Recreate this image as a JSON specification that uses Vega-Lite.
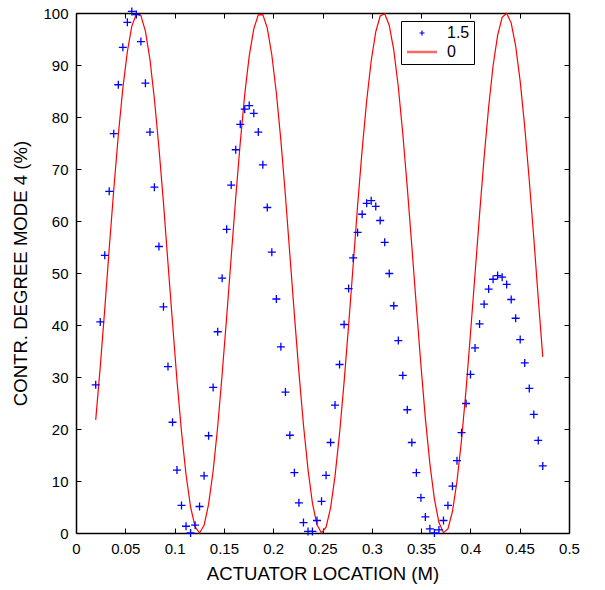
{
  "$schema": "https://vega.github.io/schema/vega-lite/v6.json",
  "width": 493,
  "height": 520,
  "autosize": {"type": "none"},
  "padding": {"left": 76, "top": 13, "right": 36, "bottom": 57},
  "background": "white",
  "config": {
    "view": {"stroke": null},
    "font": "Liberation Sans",
    "axis": {
      "grid": false,
      "domainColor": "black",
      "domainWidth": 1.5,
      "tickColor": "black",
      "tickWidth": 1,
      "labelColor": "black",
      "titleColor": "black",
      "labelFontSize": 15,
      "titleFontSize": 18.6,
      "titleFontWeight": "normal",
      "labelFlush": false,
      "labelOverlap": false,
      "labelFont": "Liberation Sans",
      "titleFont": "Liberation Sans"
    },
    "legend": {
      "title": null, "orient": "none", "legendX": 325, "legendY": 8,
      "strokeColor": "black", "fillColor": "white", "padding": 4,
      "labelFontSize": 16, "labelColor": "black", "labelFont": "Liberation Sans",
      "symbolSize": 25, "symbolStrokeWidth": 2, "symbolOffset": 9, "labelOffset": 17, "rowPadding": 3,
      "labelExpr": "datum.label + '    '"
    }
  },
  "datasets": {
    "blue": [
      {"x": 0.0200, "y": 28.5, "series": "1.5"},
      {"x": 0.0246, "y": 40.6, "series": "1.5"},
      {"x": 0.0292, "y": 53.4, "series": "1.5"},
      {"x": 0.0337, "y": 65.7, "series": "1.5"},
      {"x": 0.0383, "y": 76.8, "series": "1.5"},
      {"x": 0.0429, "y": 86.2, "series": "1.5"},
      {"x": 0.0475, "y": 93.4, "series": "1.5"},
      {"x": 0.0521, "y": 98.2, "series": "1.5"},
      {"x": 0.0566, "y": 100.3, "series": "1.5"},
      {"x": 0.0612, "y": 99.7, "series": "1.5"},
      {"x": 0.0658, "y": 94.5, "series": "1.5"},
      {"x": 0.0704, "y": 86.5, "series": "1.5"},
      {"x": 0.0750, "y": 77.1, "series": "1.5"},
      {"x": 0.0795, "y": 66.5, "series": "1.5"},
      {"x": 0.0841, "y": 55.1, "series": "1.5"},
      {"x": 0.0887, "y": 43.5, "series": "1.5"},
      {"x": 0.0933, "y": 32.0, "series": "1.5"},
      {"x": 0.0979, "y": 21.3, "series": "1.5"},
      {"x": 0.1024, "y": 12.1, "series": "1.5"},
      {"x": 0.1070, "y": 5.3, "series": "1.5"},
      {"x": 0.1116, "y": 1.3, "series": "1.5"},
      {"x": 0.1162, "y": 0.0, "series": "1.5"},
      {"x": 0.1208, "y": 1.5, "series": "1.5"},
      {"x": 0.1253, "y": 5.1, "series": "1.5"},
      {"x": 0.1299, "y": 11.0, "series": "1.5"},
      {"x": 0.1345, "y": 18.7, "series": "1.5"},
      {"x": 0.1391, "y": 28.0, "series": "1.5"},
      {"x": 0.1437, "y": 38.7, "series": "1.5"},
      {"x": 0.1482, "y": 49.0, "series": "1.5"},
      {"x": 0.1528, "y": 58.4, "series": "1.5"},
      {"x": 0.1574, "y": 66.9, "series": "1.5"},
      {"x": 0.1620, "y": 73.7, "series": "1.5"},
      {"x": 0.1666, "y": 78.6, "series": "1.5"},
      {"x": 0.1711, "y": 81.5, "series": "1.5"},
      {"x": 0.1757, "y": 82.2, "series": "1.5"},
      {"x": 0.1803, "y": 80.7, "series": "1.5"},
      {"x": 0.1849, "y": 77.1, "series": "1.5"},
      {"x": 0.1895, "y": 70.8, "series": "1.5"},
      {"x": 0.1940, "y": 62.6, "series": "1.5"},
      {"x": 0.1986, "y": 54.0, "series": "1.5"},
      {"x": 0.2032, "y": 45.0, "series": "1.5"},
      {"x": 0.2078, "y": 35.8, "series": "1.5"},
      {"x": 0.2124, "y": 27.1, "series": "1.5"},
      {"x": 0.2169, "y": 18.8, "series": "1.5"},
      {"x": 0.2215, "y": 11.6, "series": "1.5"},
      {"x": 0.2261, "y": 5.8, "series": "1.5"},
      {"x": 0.2307, "y": 2.0, "series": "1.5"},
      {"x": 0.2353, "y": 0.3, "series": "1.5"},
      {"x": 0.2398, "y": 0.3, "series": "1.5"},
      {"x": 0.2444, "y": 2.4, "series": "1.5"},
      {"x": 0.2490, "y": 6.1, "series": "1.5"},
      {"x": 0.2536, "y": 11.1, "series": "1.5"},
      {"x": 0.2582, "y": 17.4, "series": "1.5"},
      {"x": 0.2627, "y": 24.6, "series": "1.5"},
      {"x": 0.2673, "y": 32.4, "series": "1.5"},
      {"x": 0.2719, "y": 40.1, "series": "1.5"},
      {"x": 0.2765, "y": 47.0, "series": "1.5"},
      {"x": 0.2811, "y": 52.9, "series": "1.5"},
      {"x": 0.2856, "y": 57.8, "series": "1.5"},
      {"x": 0.2902, "y": 61.3, "series": "1.5"},
      {"x": 0.2948, "y": 63.4, "series": "1.5"},
      {"x": 0.2994, "y": 63.9, "series": "1.5"},
      {"x": 0.3040, "y": 62.8, "series": "1.5"},
      {"x": 0.3085, "y": 60.1, "series": "1.5"},
      {"x": 0.3131, "y": 55.9, "series": "1.5"},
      {"x": 0.3177, "y": 49.9, "series": "1.5"},
      {"x": 0.3223, "y": 43.7, "series": "1.5"},
      {"x": 0.3269, "y": 37.0, "series": "1.5"},
      {"x": 0.3314, "y": 30.3, "series": "1.5"},
      {"x": 0.3360, "y": 23.7, "series": "1.5"},
      {"x": 0.3406, "y": 17.4, "series": "1.5"},
      {"x": 0.3452, "y": 11.6, "series": "1.5"},
      {"x": 0.3498, "y": 6.8, "series": "1.5"},
      {"x": 0.3543, "y": 3.1, "series": "1.5"},
      {"x": 0.3589, "y": 0.8, "series": "1.5"},
      {"x": 0.3635, "y": 0.0, "series": "1.5"},
      {"x": 0.3681, "y": 0.6, "series": "1.5"},
      {"x": 0.3727, "y": 2.4, "series": "1.5"},
      {"x": 0.3772, "y": 5.3, "series": "1.5"},
      {"x": 0.3818, "y": 9.0, "series": "1.5"},
      {"x": 0.3864, "y": 13.9, "series": "1.5"},
      {"x": 0.3910, "y": 19.3, "series": "1.5"},
      {"x": 0.3956, "y": 24.9, "series": "1.5"},
      {"x": 0.4001, "y": 30.5, "series": "1.5"},
      {"x": 0.4047, "y": 35.6, "series": "1.5"},
      {"x": 0.4093, "y": 40.2, "series": "1.5"},
      {"x": 0.4139, "y": 44.0, "series": "1.5"},
      {"x": 0.4185, "y": 46.9, "series": "1.5"},
      {"x": 0.4230, "y": 48.8, "series": "1.5"},
      {"x": 0.4276, "y": 49.5, "series": "1.5"},
      {"x": 0.4322, "y": 49.2, "series": "1.5"},
      {"x": 0.4368, "y": 47.8, "series": "1.5"},
      {"x": 0.4414, "y": 44.9, "series": "1.5"},
      {"x": 0.4459, "y": 41.3, "series": "1.5"},
      {"x": 0.4505, "y": 37.2, "series": "1.5"},
      {"x": 0.4551, "y": 32.7, "series": "1.5"},
      {"x": 0.4597, "y": 27.8, "series": "1.5"},
      {"x": 0.4643, "y": 22.8, "series": "1.5"},
      {"x": 0.4688, "y": 17.8, "series": "1.5"},
      {"x": 0.4734, "y": 12.9, "series": "1.5"}
    ],
    "red": [
      {"x": 0.0200, "y": 21.76, "series": "0"},
      {"x": 0.0246, "y": 31.98, "series": "0"},
      {"x": 0.0292, "y": 43.15, "series": "0"},
      {"x": 0.0337, "y": 54.70, "series": "0"},
      {"x": 0.0383, "y": 66.00, "series": "0"},
      {"x": 0.0429, "y": 76.49, "series": "0"},
      {"x": 0.0475, "y": 85.51, "series": "0"},
      {"x": 0.0521, "y": 92.60, "series": "0"},
      {"x": 0.0566, "y": 97.48, "series": "0"},
      {"x": 0.0612, "y": 99.81, "series": "0"},
      {"x": 0.0658, "y": 99.48, "series": "0"},
      {"x": 0.0704, "y": 96.51, "series": "0"},
      {"x": 0.0750, "y": 91.07, "series": "0"},
      {"x": 0.0795, "y": 83.46, "series": "0"},
      {"x": 0.0841, "y": 74.12, "series": "0"},
      {"x": 0.0887, "y": 63.54, "series": "0"},
      {"x": 0.0933, "y": 51.85, "series": "0"},
      {"x": 0.0979, "y": 40.39, "series": "0"},
      {"x": 0.1024, "y": 29.37, "series": "0"},
      {"x": 0.1070, "y": 19.47, "series": "0"},
      {"x": 0.1116, "y": 11.20, "series": "0"},
      {"x": 0.1162, "y": 5.00, "series": "0"},
      {"x": 0.1208, "y": 1.20, "series": "0"},
      {"x": 0.1253, "y": 0.00, "series": "0"},
      {"x": 0.1299, "y": 1.48, "series": "0"},
      {"x": 0.1345, "y": 5.54, "series": "0"},
      {"x": 0.1391, "y": 11.97, "series": "0"},
      {"x": 0.1437, "y": 20.44, "series": "0"},
      {"x": 0.1482, "y": 30.48, "series": "0"},
      {"x": 0.1528, "y": 41.55, "series": "0"},
      {"x": 0.1574, "y": 53.09, "series": "0"},
      {"x": 0.1620, "y": 64.47, "series": "0"},
      {"x": 0.1666, "y": 75.10, "series": "0"},
      {"x": 0.1711, "y": 84.33, "series": "0"},
      {"x": 0.1757, "y": 91.74, "series": "0"},
      {"x": 0.1803, "y": 96.94, "series": "0"},
      {"x": 0.1849, "y": 99.64, "series": "0"},
      {"x": 0.1895, "y": 99.69, "series": "0"},
      {"x": 0.1940, "y": 97.10, "series": "0"},
      {"x": 0.1986, "y": 91.93, "series": "0"},
      {"x": 0.2032, "y": 84.62, "series": "0"},
      {"x": 0.2078, "y": 75.45, "series": "0"},
      {"x": 0.2124, "y": 64.85, "series": "0"},
      {"x": 0.2169, "y": 53.50, "series": "0"},
      {"x": 0.2215, "y": 41.94, "series": "0"},
      {"x": 0.2261, "y": 30.85, "series": "0"},
      {"x": 0.2307, "y": 20.76, "series": "0"},
      {"x": 0.2353, "y": 12.24, "series": "0"},
      {"x": 0.2398, "y": 5.73, "series": "0"},
      {"x": 0.2444, "y": 1.58, "series": "0"},
      {"x": 0.2490, "y": 0.01, "series": "0"},
      {"x": 0.2536, "y": 1.11, "series": "0"},
      {"x": 0.2582, "y": 4.82, "series": "0"},
      {"x": 0.2627, "y": 10.94, "series": "0"},
      {"x": 0.2673, "y": 19.15, "series": "0"},
      {"x": 0.2719, "y": 29.01, "series": "0"},
      {"x": 0.2765, "y": 39.97, "series": "0"},
      {"x": 0.2811, "y": 51.48, "series": "0"},
      {"x": 0.2856, "y": 62.95, "series": "0"},
      {"x": 0.2902, "y": 73.67, "series": "0"},
      {"x": 0.2948, "y": 83.12, "series": "0"},
      {"x": 0.2994, "y": 90.82, "series": "0"},
      {"x": 0.3040, "y": 96.37, "series": "0"},
      {"x": 0.3085, "y": 99.42, "series": "0"},
      {"x": 0.3131, "y": 99.84, "series": "0"},
      {"x": 0.3177, "y": 97.60, "series": "0"},
      {"x": 0.3223, "y": 92.85, "series": "0"},
      {"x": 0.3269, "y": 85.76, "series": "0"},
      {"x": 0.3314, "y": 76.82, "series": "0"},
      {"x": 0.3360, "y": 66.41, "series": "0"},
      {"x": 0.3406, "y": 55.12, "series": "0"},
      {"x": 0.3452, "y": 43.56, "series": "0"},
      {"x": 0.3498, "y": 32.37, "series": "0"},
      {"x": 0.3543, "y": 22.09, "series": "0"},
      {"x": 0.3589, "y": 13.32, "series": "0"},
      {"x": 0.3635, "y": 6.50, "series": "0"},
      {"x": 0.3681, "y": 2.01, "series": "0"},
      {"x": 0.3727, "y": 0.07, "series": "0"},
      {"x": 0.3772, "y": 0.80, "series": "0"},
      {"x": 0.3818, "y": 4.15, "series": "0"},
      {"x": 0.3864, "y": 9.95, "series": "0"},
      {"x": 0.3910, "y": 17.89, "series": "0"},
      {"x": 0.3956, "y": 27.54, "series": "0"},
      {"x": 0.4001, "y": 38.40, "series": "0"},
      {"x": 0.4047, "y": 49.80, "series": "0"},
      {"x": 0.4093, "y": 61.31, "series": "0"},
      {"x": 0.4139, "y": 72.18, "series": "0"},
      {"x": 0.4185, "y": 81.92, "series": "0"},
      {"x": 0.4230, "y": 89.85, "series": "0"},
      {"x": 0.4276, "y": 95.71, "series": "0"},
      {"x": 0.4322, "y": 99.15, "series": "0"},
      {"x": 0.4368, "y": 99.94, "series": "0"},
      {"x": 0.4414, "y": 98.06, "series": "0"},
      {"x": 0.4459, "y": 93.65, "series": "0"},
      {"x": 0.4505, "y": 86.86, "series": "0"},
      {"x": 0.4551, "y": 78.09, "series": "0"},
      {"x": 0.4597, "y": 67.85, "series": "0"},
      {"x": 0.4643, "y": 56.72, "series": "0"},
      {"x": 0.4688, "y": 45.19, "series": "0"},
      {"x": 0.4734, "y": 33.87, "series": "0"}
    ]
  },
  "layer": [
    {
      "data": {"name": "red"},
      "mark": {"type": "line", "strokeWidth": 1.2, "clip": false},
      "encoding": {
        "x": {
          "field": "x", "type": "quantitative",
          "scale": {"domain": [0, 0.5], "nice": false, "zero": false},
          "axis": {
            "orient": "top", "values": [0, 0.05, 0.1, 0.15, 0.2, 0.25, 0.3, 0.35, 0.4, 0.45, 0.5],
            "labels": false, "title": null, "tickSize": -5
          }
        },
        "y": {
          "field": "y", "type": "quantitative",
          "scale": {"domain": [0, 100], "nice": false, "zero": false},
          "axis": {
            "orient": "right", "values": [0, 10, 20, 30, 40, 50, 60, 70, 80, 90, 100],
            "labels": false, "title": null, "tickSize": -5
          }
        },
        "color": {
          "field": "series", "type": "nominal",
          "scale": {"domain": ["1.5", "0"], "range": ["#0000ff", "#ff0000"]},
          "legend": {
            "encode": {"symbols": {"update": {"strokeWidth": {"signal": "datum.value == '1.5' ? 1.2 : 2.5"}, "strokeOpacity": {"signal": "datum.value == '1.5' ? 1 : 0.6"}}}}
          }
        }
      }
    },
    {
      "data": {"name": "blue"},
      "mark": {"type": "point", "filled": false, "size": 64, "strokeWidth": 1.3, "opacity": 1},
      "encoding": {
        "x": {
          "field": "x", "type": "quantitative",
          "scale": {"domain": [0, 0.5], "nice": false, "zero": false},
          "axis": {
            "orient": "bottom", "values": [0, 0.05, 0.1, 0.15, 0.2, 0.25, 0.3, 0.35, 0.4, 0.45, 0.5],
            "format": "~g", "title": "ACTUATOR LOCATION (M)", "tickSize": -5, "labelPadding": 13, "titlePadding": 8
          }
        },
        "y": {
          "field": "y", "type": "quantitative",
          "scale": {"domain": [0, 100], "nice": false, "zero": false},
          "axis": {
            "orient": "left", "values": [0, 10, 20, 30, 40, 50, 60, 70, 80, 90, 100],
            "title": "CONTR. DEGREE MODE 4 (%)", "tickSize": -5, "labelPadding": 13, "titlePadding": 12
          }
        },
        "color": {
          "field": "series", "type": "nominal",
          "scale": {"domain": ["1.5", "0"], "range": ["#0000ff", "#ff0000"]},
          "legend": {
            "encode": {"symbols": {"update": {"strokeWidth": {"signal": "datum.value == '1.5' ? 1.2 : 2.5"}, "strokeOpacity": {"signal": "datum.value == '1.5' ? 1 : 0.6"}}}}
          }
        },
        "shape": {
          "field": "series", "type": "nominal",
          "scale": {"domain": ["1.5", "0"], "range": ["M-1,0H1M0,-1V1", "M-6,0H6"]},
          "legend": {
            "encode": {"symbols": {"update": {"strokeWidth": {"signal": "datum.value == '1.5' ? 1.2 : 2.5"}, "strokeOpacity": {"signal": "datum.value == '1.5' ? 1 : 0.6"}}}}
          }
        }
      }
    }
  ],
  "resolve": {"axis": {"x": "independent", "y": "independent"}}
}
